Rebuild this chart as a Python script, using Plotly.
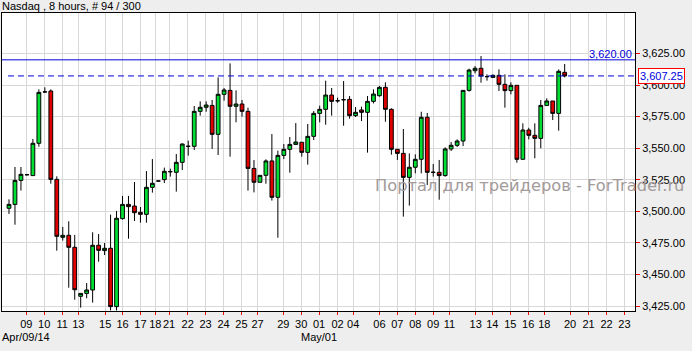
import plotly.graph_objects as go

# ---- data ----
opens = [3502.4, 3505.5, 3524.5, 3529.0, 3528.3, 3553.9, 3594.6, 3595.3, 3525.3, 3479.4,
         3481.0, 3471.5, 3432.7, 3435.0, 3437.7, 3473.1, 3468.9, 3470.7, 3424.5, 3494.2,
         3505.5, 3504.2, 3499.2, 3497.6, 3519.0, 3524.0, 3525.1, 3531.4, 3530.9, 3538.8,
         3551.5, 3551.5, 3579.2, 3582.4, 3583.9, 3561.0, 3592.7, 3595.8, 3583.2, 3585.0,
         3579.2, 3534.0, 3523.0, 3528.5, 3539.9, 3511.1, 3544.3, 3549.1, 3553.0, 3554.7,
         3546.7, 3559.4, 3577.6, 3580.8, 3592.1, 3587.6, 3588.4, 3588.7, 3575.8, 3580.3,
         3578.4, 3587.1, 3591.6, 3598.2, 3580.8, 3549.1, 3545.9, 3526.9, 3534.9, 3541.2,
         3574.5, 3530.9, 3530.9, 3528.3, 3549.4, 3552.3, 3555.7, 3595.8, 3611.4, 3613.3,
         3606.7, 3606.1, 3607.7, 3600.6, 3595.6, 3599.8, 3541.2, 3564.4, 3560.2, 3557.8,
         3583.9, 3587.4, 3577.6, 3610.1]
highs = [3509.5, 3535.1, 3535.1, 3529.6, 3557.3, 3596.6, 3598.2, 3596.6, 3527.7, 3487.6,
         3492.1, 3481.3, 3435.0, 3443.2, 3483.4, 3482.0, 3474.9, 3497.4, 3500.3, 3512.2,
         3512.2, 3523.2, 3503.4, 3531.9, 3541.4, 3524.2, 3534.6, 3533.8, 3545.4, 3553.9,
         3556.0, 3583.4, 3587.1, 3587.1, 3588.2, 3606.1, 3597.7, 3617.2, 3595.8, 3588.2,
         3582.1, 3540.6, 3528.5, 3541.2, 3561.2, 3548.0, 3553.3, 3558.9, 3569.9, 3554.7,
         3569.2, 3579.4, 3583.7, 3603.5, 3597.7, 3590.0, 3603.2, 3591.3, 3582.6, 3582.9,
         3591.3, 3596.6, 3599.3, 3602.2, 3581.6, 3549.1, 3565.2, 3545.9, 3545.1, 3578.9,
         3577.9, 3537.5, 3540.7, 3550.7, 3554.9, 3557.0, 3595.8, 3613.0, 3615.1, 3623.0,
         3608.5, 3608.5, 3612.5, 3608.5, 3602.2, 3599.8, 3569.7, 3566.2, 3569.7, 3588.2,
         3589.5, 3587.4, 3612.4, 3616.7]
lows = [3497.9, 3489.4, 3516.4, 3528.4, 3528.3, 3551.2, 3594.0, 3521.9, 3468.8, 3476.8,
        3439.5, 3430.0, 3423.7, 3431.1, 3427.7, 3460.1, 3465.4, 3421.5, 3421.5, 3493.4,
        3478.3, 3492.3, 3491.0, 3491.0, 3514.8, 3523.8, 3522.4, 3527.5, 3515.6, 3532.7,
        3544.1, 3548.6, 3575.8, 3578.9, 3549.4, 3544.6, 3587.7, 3543.3, 3570.5, 3575.0,
        3516.4, 3515.0, 3523.0, 3521.9, 3508.5, 3479.1, 3541.4, 3530.6, 3553.0, 3543.3,
        3537.0, 3556.5, 3570.5, 3568.6, 3575.8, 3586.0, 3567.8, 3573.4, 3574.7, 3571.5,
        3546.5, 3585.5, 3590.8, 3571.0, 3544.9, 3540.7, 3495.8, 3504.5, 3530.1, 3530.1,
        3520.9, 3527.5, 3509.2, 3527.5, 3547.8, 3551.0, 3551.7, 3594.8, 3609.3, 3601.9,
        3603.5, 3606.1, 3595.3, 3582.1, 3592.7, 3538.5, 3541.2, 3557.0, 3542.0, 3549.9,
        3583.9, 3572.3, 3563.9, 3606.1]
closes = [3505.5, 3524.5, 3529.3, 3529.0, 3553.9, 3594.2, 3594.6, 3525.3, 3480.2, 3481.0,
          3471.5, 3437.9, 3435.0, 3437.7, 3473.1, 3469.1, 3470.7, 3424.5, 3494.5, 3505.5,
          3503.7, 3498.9, 3497.6, 3519.0, 3522.2, 3524.0, 3531.7, 3531.4, 3538.8, 3553.3,
          3551.5, 3579.2, 3582.4, 3584.2, 3561.0, 3592.7, 3596.1, 3583.2, 3585.0, 3579.2,
          3534.0, 3523.0, 3528.5, 3539.9, 3511.1, 3544.3, 3549.1, 3553.0, 3554.9, 3546.7,
          3559.4, 3577.6, 3580.8, 3592.1, 3587.1, 3587.6, 3588.4, 3575.8, 3578.4, 3578.4,
          3587.1, 3592.9, 3598.2, 3580.8, 3549.1, 3545.9, 3526.9, 3534.9, 3541.2, 3574.5,
          3530.9, 3530.9, 3528.3, 3549.4, 3552.3, 3555.7, 3595.8, 3611.9, 3613.3, 3607.2,
          3606.7, 3607.7, 3600.6, 3595.6, 3599.8, 3541.2, 3564.4, 3560.2, 3557.8, 3583.9,
          3587.4, 3577.6, 3610.9, 3607.25]

# bar positions where the day labels sit, and their texts
tick_bar_pos = [2.9, 5.9, 8.9, 11.6, 16.1, 19.0, 22.0, 24.5, 26.8, 29.9, 32.9, 35.9,
                38.9, 41.6, 45.9, 48.9, 51.9, 55.0, 57.6, 62.0, 65.0, 68.0, 71.0, 73.7,
                78.1, 80.9, 83.9, 86.9, 89.6, 93.9, 97.0, 100.0, 103.0]
tick_labels = ['09', '10', '11', '13', '15', '16', '17', '18', '21', '22', '23', '24',
               '25', '27', '29', '30', '01', '02', '04', '06', '07', '08', '09', '11',
               '13', '14', '15', '16', '18', '20', '21', '22', '23']
month_labels = ['Apr/09/14', 'May/01']
month_label_pos = [None, 51.9]
price_ticks = [3425, 3450, 3475, 3500, 3525, 3550, 3575, 3600, 3625]

level_price = 3620.00
last_price = closes[-1]
title_text = 'Nasdaq , 8 hours, # 94 / 300'
watermark = 'Портал для трейдеров - ForTrader.ru'

bar_index = list(range(len(opens)))

GREEN = '#00dd33'
RED = '#e00000'
BLUE = '#0000dd'
FONT = 'Liberation Sans, Arial, sans-serif'

fig = go.Figure(go.Candlestick(
    x=bar_index, open=opens, high=highs, low=lows, close=closes,
    increasing=dict(fillcolor=GREEN, line=dict(color='black', width=1)),
    decreasing=dict(fillcolor=RED, line=dict(color='black', width=1)),
    whiskerwidth=0, hoverinfo='skip', showlegend=False,
))

x_range = [-1.17, 104.77]
y_range = [3421.04, 3657.1]

fig.update_layout(
    width=692, height=351,
    margin=dict(l=2, r=57, t=13, b=40, pad=0),
    paper_bgcolor='#eeeeee', plot_bgcolor='white',
    boxgap=0.3, boxgroupgap=0.1,
    font=dict(family=FONT, size=11, color='black'),
    showlegend=False,
    xaxis=dict(
        range=x_range, tickmode='array', tickvals=tick_bar_pos, ticktext=tick_labels,
        tickangle=0,
        ticks='outside', tickcolor='red', ticklen=3, tickwidth=1,
        showgrid=True, gridcolor='#d8d8d8', gridwidth=1,
        showline=True, linecolor='black', linewidth=1, mirror=True,
        zeroline=False, rangeslider=dict(visible=False),
        tickfont=dict(family=FONT, size=11, color='black'),
    ),
    yaxis=dict(
        side='right', range=y_range, tickmode='array', tickvals=price_ticks,
        tickformat=',.2f',
        ticks='outside', tickcolor='red', ticklen=4, tickwidth=1,
        showgrid=True, gridcolor='#d8d8d8', gridwidth=1,
        showline=True, linecolor='black', linewidth=1, mirror=True,
        zeroline=False,
        tickfont=dict(family=FONT, size=11, color='black'),
    ),
)

# level lines
fig.add_shape(type='line', xref='paper', yref='y', x0=0, x1=1, y0=level_price, y1=level_price,
              line=dict(color=BLUE, width=1))
fig.add_shape(type='line', xref='x', yref='y', x0=-0.17, x1=x_range[1], y0=last_price, y1=last_price,
              line=dict(color=BLUE, width=1, dash='6px,4px'))

annotations = [
    dict(text=title_text, xref='paper', yref='paper', x=-0.003, y=1.022,
         xanchor='left', yanchor='middle', showarrow=False,
         font=dict(family=FONT, size=11, color='black')),
    dict(text=f'{level_price:,.2f}', xref='paper', yref='y', x=0.998, y=level_price,
         xanchor='right', yanchor='bottom', showarrow=False, yshift=-2,
         font=dict(family=FONT, size=11, color=BLUE)),
    dict(text=f'{last_price:,.2f}', xref='paper', yref='y', x=1.0047, y=last_price,
         xanchor='left', yanchor='middle', showarrow=False,
         bgcolor='white', bordercolor='red', borderwidth=1, borderpad=1,
         font=dict(family=FONT, size=11, color=BLUE)),
    dict(text=watermark, xref='paper', yref='paper', x=0.834, y=0.4195,
         xanchor='center', yanchor='middle', showarrow=False,
         font=dict(family='DejaVu Sans, sans-serif', size=16.3, color='#a39a9a')),
    dict(text=month_labels[0], xref='paper', yref='paper', x=-0.003, y=-0.087,
         xanchor='left', yanchor='middle', showarrow=False,
         font=dict(family=FONT, size=11, color='black')),
    dict(text=month_labels[1], xref='x', yref='paper', x=month_label_pos[1], y=-0.087,
         xanchor='center', yanchor='middle', showarrow=False,
         font=dict(family=FONT, size=11, color='black')),
]
fig.update_layout(annotations=annotations)

fig.write_html('out.html')
